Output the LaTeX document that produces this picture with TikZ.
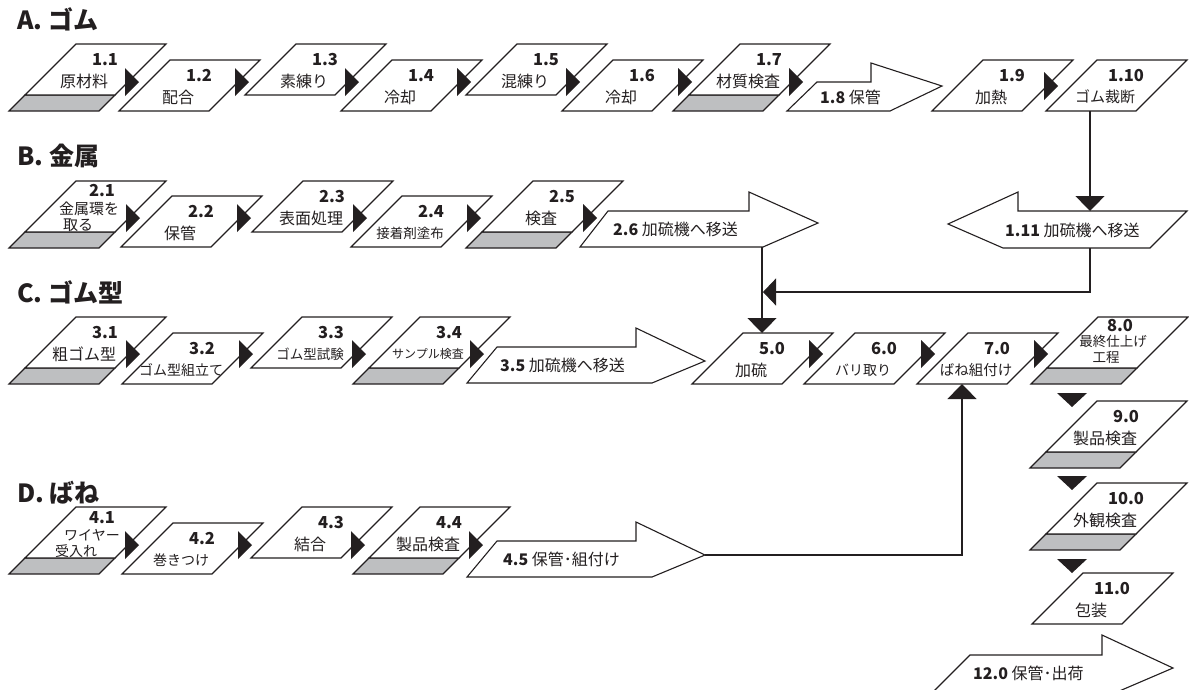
\documentclass[tikz,border=0pt]{standalone}
\usepackage{fontspec}
\setmainfont{Noto Sans CJK JP}
\usetikzlibrary{arrows.meta}
\definecolor{ink}{RGB}{35,31,32}
\definecolor{bandgray}{RGB}{190,191,193}
\tikzset{
  ln/.style={draw=ink,line width=1.1pt,line join=miter},
  pshape/.style={ln,fill=white},
  band/.style={ln,fill=bandgray},
  num/.style={inner sep=0pt,font=\fontsize{16.5}{18}\selectfont\bfseries,text=ink},
  txt/.style={inner sep=0pt,text=ink},
  ttl/.style={inner sep=0pt,anchor=west,font=\fontsize{25}{28}\selectfont\bfseries,text=ink},
  alab/.style={inner sep=0pt,anchor=west,font=\fontsize{16}{18}\selectfont,text=ink},
  conn/.style={ln,-{Triangle[length=15pt,width=29pt]}},
}
% parallelogram box: [fontsize] name, X (top-left), T (top), number, text
\newcommand\PFrame[2]{\draw[pshape] (#1,#2) -- ++(90,0) -- ++(-51,51) -- ++(-90,0) -- cycle;}
\newcommand\PBand[2]{\draw[band] ({#1-51},{#2+51}) -- ++(90,0) -- ++(-16,16) -- ++(-90,0) -- cycle;}
\newcommand\PBox[6][16]{%
  \PFrame{#3}{#4}%
  \node[num] (#2n) at ({#3+29},{#4+16}) {#5};%
  \node[txt,font=\fontsize{#1}{#1}\selectfont] (#2) at ({#3+8},{#4+37}) {#6};}
\newcommand\PBoxS[6][16]{\PBand{#3}{#4}\PBox[#1]{#2}{#3}{#4}{#5}{#6}}
% right-pointing head after a box: X, T, yc
\newcommand\RT[3]{\fill[ink] ({#1+87-(#3-#2)},{#3-14}) -- ++(14,14) -- ++(-14,14) -- cycle;}
% down-pointing head: x centre, base y
\newcommand\DT[2]{\fill[ink] ({#1-15},#2) -- ++(30,0) -- ++(-15,14) -- cycle;}

\begin{document}
\begin{tikzpicture}[x=1pt,y=-1pt]
\useasboundingbox (0,0) rectangle (1189,689);

% titles
\node[ttl] (tA) at (17,19) {A. ゴム};
\node[ttl] (tB) at (17,156) {B. 金属};
\node[ttl] (tC) at (17,292) {C. ゴム型};
\node[ttl] (tD) at (17,493) {D. ばね};

% ---------- row A ----------
\PBoxS{a1}{76}{44}{1.1}{原材料}
\PBox{a2}{170}{60}{1.2}{配合}
\PBox{a3}{296}{44}{1.3}{素練り}
\PBox{a4}{392}{60}{1.4}{冷却}
\PBox{a5}{517}{44}{1.5}{混練り}
\PBox{a6}{613}{60}{1.6}{冷却}
\PBoxS{a7}{740}{44}{1.7}{材質検査}
\draw[pshape] (787,111) -- (817,82) -- (871,82) -- (871,63) -- (942,86) -- (890,111) -- cycle;
\node[alab] (a8) at (820,97) {\textbf{1.8} 保管};
\PBox{a9}{983}{60}{1.9}{加熱}
\PBox[15]{a10}{1097}{60}{1.10}{ゴム裁断}
\draw[pshape] (948,224) -- (1018,192) -- (1018,211) -- (1187,211) -- (1150,248) -- (1003,248) -- cycle;
\node[alab] (a11) at (1005,230) {\textbf{1.11} 加硫機へ移送};

% ---------- row B ----------
\PBand{76}{181}\PFrame{76}{181}
\node[num] (b1n) at (102,191) {2.1};
\node[txt,font=\fontsize{15}{15}\selectfont] (b1) at (89,209) {金属環を};
\node[txt,font=\fontsize{15}{15}\selectfont] (b1x) at (78,225) {取る};
\PBox{b2}{172}{196}{2.2}{保管}
\PBox{b3}{303}{181}{2.3}{表面処理}
\PBox[13.5]{b4}{402}{196}{2.4}{接着剤塗布}
\PBoxS{b5}{533}{181}{2.5}{検査}
\draw[pshape] (580,247) -- (608,211) -- (749,211) -- (749,192) -- (818,223) -- (763,247) -- cycle;
\node[alab] (b6) at (613,229) {\textbf{2.6} 加硫機へ移送};

% ---------- row C ----------
\PBoxS{c1}{76}{317}{3.1}{粗ゴム型}
\PBox[14]{c2}{173}{333}{3.2}{ゴム型組立て}
\PBox[13.5]{c3}{302}{317}{3.3}{ゴム型試験}
\PBoxS[12]{c4}{420}{317}{3.4}{サンプル検査}
\draw[pshape] (467,383) -- (497,347) -- (636,347) -- (636,328) -- (705,361) -- (652,383) -- cycle;
\node[alab] (c35) at (500,365) {\textbf{3.5} 加硫機へ移送};
\PBox{c5}{743}{333}{5.0}{加硫}
\PBox[14]{c6}{855}{333}{6.0}{バリ取り}
\PBox[14.5]{c7}{968}{333}{7.0}{ばね組付け}
\PBand{1098}{317}\PFrame{1098}{317}
\node[num] (c8n) at (1120,326) {8.0};
\node[txt,font=\fontsize{13.5}{14}\selectfont] (c8) at (1113,341) {最終仕上げ};
\node[txt,font=\fontsize{13.5}{14}\selectfont] (c8x) at (1106,357) {工程};

% ---------- row D ----------
\PBand{76}{507}\PFrame{76}{507}
\node[num] (d1n) at (102,518) {4.1};
\node[txt,font=\fontsize{14}{14}\selectfont] (d1) at (92,535) {ワイヤー};
\node[txt,font=\fontsize{14}{14}\selectfont] (d1x) at (76,551) {受入れ};
\PBox[14]{d2}{173}{523}{4.2}{巻きつけ}
\PBox{d3}{302}{507}{4.3}{結合}
\PBoxS{d4}{420}{507}{4.4}{製品検査}
\draw[pshape] (467,577) -- (497,541) -- (636,541) -- (636,522) -- (705,555) -- (652,577) -- cycle;
\node[alab] (d5) at (503,559) {\textbf{4.5} 保管･組付け};

% ---------- right column ----------
\PBoxS{e9}{1097}{401}{9.0}{製品検査}
\PBoxS{e10}{1097}{483}{10.0}{外観検査}
\PBox{e11}{1083}{573}{11.0}{包装}
\draw[pshape] (933,692) -- (970,655) -- (1102,655) -- (1102,635) -- (1173,668) -- (1117,692) -- cycle;
\node[alab] (e12) at (973,673) {\textbf{12.0} 保管･出荷};

% ---------- arrow heads between boxes ----------
\RT{76}{44}{82}\RT{170}{60}{82}\RT{296}{44}{82}\RT{392}{60}{82}
\RT{517}{44}{82}\RT{613}{60}{82}\RT{740}{44}{82}\RT{983}{60}{86}
\RT{76}{181}{218}\RT{172}{196}{218}\RT{303}{181}{218}\RT{402}{196}{218}\RT{533}{181}{218}
\RT{76}{317}{354}\RT{173}{333}{354}\RT{302}{317}{354}\RT{420}{317}{354}
\RT{743}{333}{354}\RT{855}{333}{354}\RT{968}{333}{354}
\RT{76}{507}{545}\RT{173}{523}{545}\RT{302}{507}{545}\RT{420}{507}{545}
\DT{1072}{393}\DT{1072}{476}\DT{1072}{559}

% ---------- connectors ----------
\coordinate (a10s) at (1090,111);
\coordinate (a11n) at (1090,211);
\draw[conn] (a10s) -- (a11n);
\coordinate (a11s) at (1090,248);
\coordinate (j1) at (763,292);
\draw[ln,-{Triangle[length=13pt,width=27pt]}] (a11s) |- (j1);
\coordinate (b6s) at (762,247);
\coordinate (c5top) at (762,333);
\draw[conn] (b6s) -- (c5top);
\coordinate (d5e) at (705,555);
\coordinate (c7bot) at (962,384);
\draw[conn] (d5e) -| (c7bot);
\end{tikzpicture}
\end{document}
